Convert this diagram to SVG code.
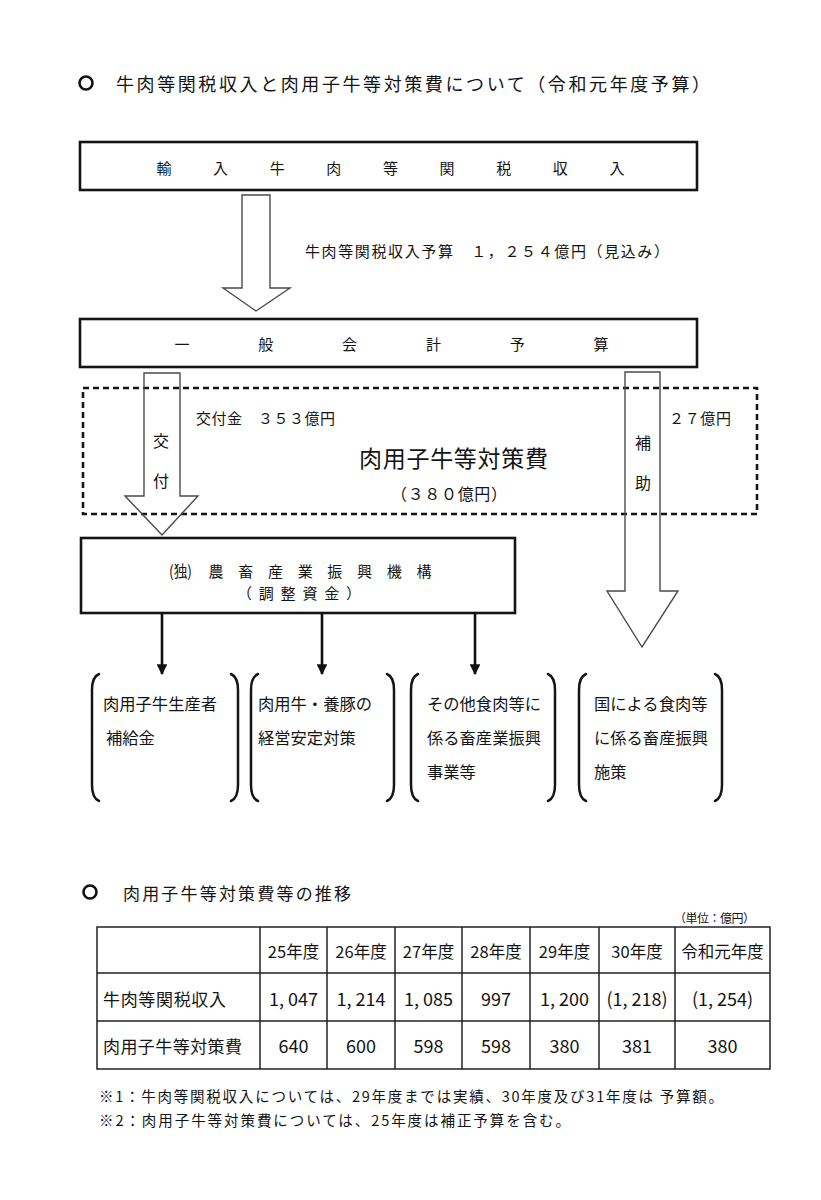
<svg xmlns="http://www.w3.org/2000/svg" width="821" height="1200" viewBox="0 0 821 1200">
<style>
.t{font-family:"Noto Sans CJK JP","Noto Sans CJK SC",sans-serif;fill:#141414;dominant-baseline:central}
.box{fill:none;stroke:#151515;stroke-width:2.6}
.hollow{fill:none;stroke:#4a4a4a;stroke-width:1.4;stroke-linejoin:miter}
.dot{fill:none;stroke:#151515;stroke-width:2.6;stroke-dasharray:6 4}
.br{fill:none;stroke:#151515;stroke-width:2.5;stroke-linecap:round}
.grid{stroke:#222;stroke-width:1.5;fill:none}
.ring{fill:none;stroke:#111;stroke-width:2.6}
.arr{stroke:#111;stroke-width:2.6;fill:none}
.c{text-anchor:middle}
</style>
<defs>
<marker id="ah" viewBox="0 0 10 10" refX="9" refY="5" markerWidth="4.2" markerHeight="4.2" markerUnits="strokeWidth" orient="auto">
<path d="M0,0 L10,5 L0,10 Z" fill="#111"/>
</marker>
</defs>
<rect width="821" height="1200" fill="#fff"/>

<g id="title">
<circle class="ring" cx="86" cy="83" r="6.5"/>
<text class="t" x="116" y="83" font-size="18" textLength="594" lengthAdjust="spacing">牛肉等関税収入と肉用子牛等対策費について（令和元年度予算）</text>
</g>

<g id="node-import">
<rect class="box" x="80" y="142" width="617" height="48"/>
<text class="t" x="156.5" y="167" font-size="15" textLength="468" lengthAdjust="spacing">輸入牛肉等関税収入</text>
</g>

<g id="node-general">
<rect class="box" x="80" y="319" width="617" height="48"/>
<text class="t" x="174.5" y="343" font-size="15" textLength="434" lengthAdjust="spacing">一般会計予算</text>
</g>

<g id="node-policy">
<rect class="dot" x="83" y="388" width="674" height="126"/>
<text class="t" x="196" y="417" font-size="15" textLength="139" lengthAdjust="spacing">交付金　３５３億円</text>
<text class="t" x="669" y="417" font-size="15" textLength="62" lengthAdjust="spacing">２７億円</text>
<text class="t" x="359" y="457" font-size="23" textLength="189" lengthAdjust="spacing">肉用子牛等対策費</text>
<text class="t" x="391" y="493" font-size="16" textLength="116" lengthAdjust="spacing">（３８０億円）</text>
</g>

<g id="node-alic">
<rect class="box" x="81" y="538" width="434" height="75"/>
<text class="t" x="169" y="570" font-size="16" textLength="23" lengthAdjust="spacingAndGlyphs">(独)</text>
<text class="t" x="208.5" y="570" font-size="15" textLength="223" lengthAdjust="spacing">農畜産業振興機構</text>
<text class="t" x="237" y="592" font-size="15" textLength="124" lengthAdjust="spacing">（調整資金）</text>
</g>

<g id="connectors">
<polygon class="hollow" points="242,195 270,195 270,288 290,288 256,311 223,288 242,288"/>
<text class="t" x="305" y="250" font-size="15" textLength="364" lengthAdjust="spacing">牛肉等関税収入予算　１，２５４億円（見込み）</text>
<polygon class="hollow" points="144,373 180,373 180,496 198,496 162,535 125,496 144,496"/>
<text class="t c" x="161" y="440" font-size="16">交</text>
<text class="t c" x="161" y="480" font-size="16">付</text>
<polygon class="hollow" points="625,372 660,372 660,591 678,591 642,647 607,591 625,591"/>
<text class="t c" x="643" y="442" font-size="16">補</text>
<text class="t c" x="643" y="482" font-size="16">助</text>
<line class="arr" x1="162" y1="613" x2="162" y2="674" marker-end="url(#ah)"/>
<line class="arr" x1="322" y1="613" x2="322" y2="674" marker-end="url(#ah)"/>
<line class="arr" x1="475" y1="613" x2="475" y2="674" marker-end="url(#ah)"/>
</g>

<g id="node-g1">
<path class="br" d="M99,674 Q92,677 92,690 L92,785 Q92,798 99,801"/>
<path class="br" d="M231,674 Q238,677 238,690 L238,785 Q238,798 231,801"/>
<text class="t" x="103" y="703" font-size="16.3">肉用子牛生産者</text>
<text class="t" x="106" y="737" font-size="16.3">補給金</text>
</g>
<g id="node-g2">
<path class="br" d="M258,674 Q251,677 251,690 L251,785 Q251,798 258,801"/>
<path class="br" d="M387,674 Q394,677 394,690 L394,785 Q394,798 387,801"/>
<text class="t" x="258" y="703" font-size="16.3">肉用牛・養豚の</text>
<text class="t" x="258" y="737" font-size="16.3">経営安定対策</text>
</g>
<g id="node-g3">
<path class="br" d="M418,674 Q411,677 411,690 L411,785 Q411,798 418,801"/>
<path class="br" d="M548,674 Q555,677 555,690 L555,785 Q555,798 548,801"/>
<text class="t" x="427" y="703" font-size="16.3">その他食肉等に</text>
<text class="t" x="427" y="737" font-size="16.3">係る畜産業振興</text>
<text class="t" x="427" y="771" font-size="16.3">事業等</text>
</g>
<g id="node-g4">
<path class="br" d="M586,674 Q579,677 579,690 L579,785 Q579,798 586,801"/>
<path class="br" d="M715,674 Q722,677 722,690 L722,785 Q722,798 715,801"/>
<text class="t" x="594" y="703" font-size="16.3">国による食肉等</text>
<text class="t" x="594" y="737" font-size="16.3">に係る畜産振興</text>
<text class="t" x="594" y="771" font-size="16.3">施策</text>
</g>

<g id="table-section">
<circle class="ring" cx="90" cy="892" r="6.5"/>
<text class="t" x="123" y="892" font-size="17" textLength="228" lengthAdjust="spacing">肉用子牛等対策費等の推移</text>
<text class="t" x="674" y="917" font-size="12" textLength="81" lengthAdjust="spacing">（単位：億円）</text>
<rect class="grid" x="97" y="927" width="673" height="142"/>
<line class="grid" x1="97" y1="973" x2="770" y2="973"/>
<line class="grid" x1="97" y1="1021" x2="770" y2="1021"/>
<line class="grid" x1="260" y1="927" x2="260" y2="1069"/>
<line class="grid" x1="327" y1="927" x2="327" y2="1069"/>
<line class="grid" x1="395" y1="927" x2="395" y2="1069"/>
<line class="grid" x1="462" y1="927" x2="462" y2="1069"/>
<line class="grid" x1="530" y1="927" x2="530" y2="1069"/>
<line class="grid" x1="599" y1="927" x2="599" y2="1069"/>
<line class="grid" x1="675" y1="927" x2="675" y2="1069"/>
<g font-size="16.5">
<text class="t c" x="293.5" y="951">25年度</text>
<text class="t c" x="361" y="951">26年度</text>
<text class="t c" x="428.5" y="951">27年度</text>
<text class="t c" x="496" y="951">28年度</text>
<text class="t c" x="564.5" y="951">29年度</text>
<text class="t c" x="637" y="951">30年度</text>
<text class="t c" x="722.5" y="951">令和元年度</text>
</g>
<text class="t" x="103" y="998" font-size="17" textLength="123" lengthAdjust="spacing">牛肉等関税収入</text>
<text class="t" x="103" y="1045" font-size="17" textLength="139" lengthAdjust="spacing">肉用子牛等対策費</text>
<g font-size="18">
<text class="t c" x="293.5" y="998">1, 047</text>
<text class="t c" x="361" y="998">1, 214</text>
<text class="t c" x="428.5" y="998">1, 085</text>
<text class="t c" x="496" y="998">997</text>
<text class="t c" x="564.5" y="998">1, 200</text>
<text class="t c" x="637" y="998">(1, 218)</text>
<text class="t c" x="722.5" y="998">(1, 254)</text>
<text class="t c" x="293.5" y="1045">640</text>
<text class="t c" x="361" y="1045">600</text>
<text class="t c" x="428.5" y="1045">598</text>
<text class="t c" x="496" y="1045">598</text>
<text class="t c" x="564.5" y="1045">380</text>
<text class="t c" x="637" y="1045">381</text>
<text class="t c" x="722.5" y="1045">380</text>
</g>
<text class="t" x="99" y="1095" font-size="14.5" textLength="624" lengthAdjust="spacing">※1：牛肉等関税収入については、29年度までは実績、30年度及び31年度は 予算額。</text>
<text class="t" x="99" y="1119" font-size="14.5" textLength="471" lengthAdjust="spacing">※2：肉用子牛等対策費については、25年度は補正予算を含む。</text>
</g>
</svg>
